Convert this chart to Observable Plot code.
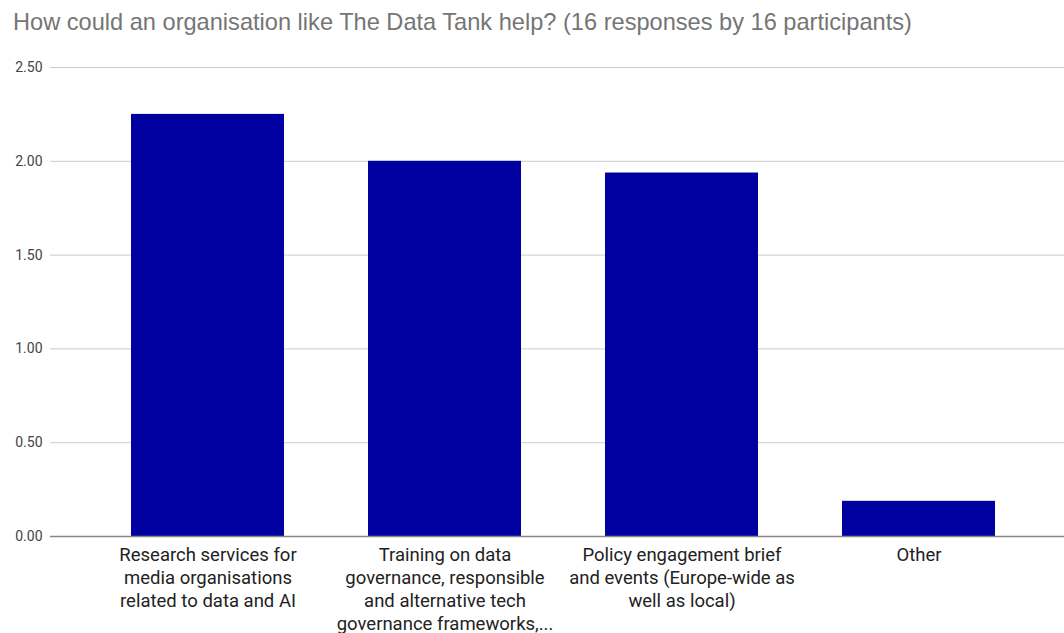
<!DOCTYPE html>
<html>
<head>
<meta charset="utf-8">
<script src="https://cdn.jsdelivr.net/npm/d3@7"></script>
<script src="https://cdn.jsdelivr.net/npm/@observablehq/plot@0.6"></script>
<style>
  html, body { margin: 0; padding: 0; background: #fff; overflow: hidden; }
  #title { font-family: "Liberation Sans", Arial, sans-serif; font-size: 23.6px; color: #757575;
           height: 45px; line-height: 24px; padding: 10px 0 0 13px; box-sizing: border-box; white-space: nowrap; }
</style>
</head>
<body>
<div id="title">How could an organisation like The Data Tank help? (16 responses by 16 participants)</div>
<div id="chart"></div>
<script>
const categories = [
  "Research services for media organisations related to data and AI",
  "Training on data governance, responsible and alternative tech governance frameworks,...",
  "Policy engagement brief and events (Europe-wide as well as local)",
  "Other"
];
const labelLines = [
  "Research services for\nmedia organisations\nrelated to data and AI",
  "Training on data\ngovernance, responsible\nand alternative tech\ngovernance frameworks,...",
  "Policy engagement brief\nand events (Europe-wide as\nwell as local)",
  "Other"
];
const values = [2.25, 2.0, 1.9375, 0.1875];
const yTicks = [0, 0.5, 1, 1.5, 2, 2.5];

const data = categories.map((c, i) => ({category: c, value: values[i]}));
const labelOf = new Map(categories.map((c, i) => [c, labelLines[i]]));

const chart = Plot.plot({
  width: 1064,
  height: 588,
  marginTop: 22,
  marginBottom: 97,
  marginLeft: 50,
  marginRight: 0,
  style: {fontFamily: "Roboto, 'Open Sans', sans-serif", background: "#fff", overflow: "visible"},
  x: {domain: categories, paddingInner: 0.354, paddingOuter: 0.177, insetLeft: 39, insetRight: 27, label: null},
  y: {domain: [0, 2.5], label: null},
  marks: [
    Plot.ruleY(yTicks.filter(d => d > 0), {stroke: "#cccccc", strokeWidth: 1}),
    Plot.axisY({ticks: yTicks, tickFormat: d3.format(".2f"), tickSize: 0, tickPadding: 8,
                fontSize: 14, fill: "#444444", label: null}),
    Plot.barY(data, {x: "category", y: "value", fill: "#0000a0"}),
    Plot.ruleY([0], {stroke: "#888888", strokeWidth: 1.5}),
    Plot.axisX({tickSize: 0, tickPadding: 8, fontSize: 18.5, fill: "#222222",
                lineHeight: 1.243, tickFormat: d => labelOf.get(d), label: null, textOverflow: null})
  ]
});
document.getElementById("chart").appendChild(chart);
</script>
</body>
</html>
